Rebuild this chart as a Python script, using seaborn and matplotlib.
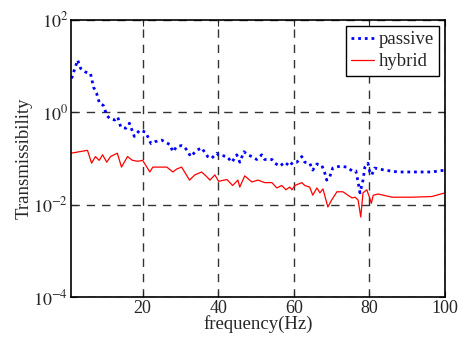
import numpy as np
import pandas as pd
import matplotlib
matplotlib.use("Agg")
import matplotlib.pyplot as plt
import seaborn as sns

# passive isolator
passive_freq = [1.2, 1.9, 2.8, 3.6, 4.9, 6.2, 7.0, 7.8, 8.6, 9.6, 10.5, 11.2, 12.6, 13.4,
                14.2, 15.5, 16.5, 17.8, 19.2, 20.0, 20.8, 21.5, 22.2, 23.2, 25.0, 27.2,
                28.0, 29.0, 30.3, 31.0, 32.0, 32.7, 34.3, 35.6, 37.2, 38.2, 39.6, 40.0,
                42.3, 43.6, 44.9, 45.7, 46.8, 47.8, 48.9, 50.2, 51.5, 52.3, 54.2, 55.0,
                56.3, 57.6, 58.9, 59.7, 60.8, 62.1, 62.9, 64.2, 65.0, 66.1, 67.4, 68.2,
                68.7, 69.5, 70.3, 72.2, 74.0, 75.4, 76.4, 77.0, 77.5, 78.3, 78.8, 79.6,
                80.1, 80.6, 81.4, 84.0, 87.5, 92.0, 96.5, 100.0]
passive_val = [5.4, 8.1, 13.5, 8.9, 7.4, 6.9, 3.5, 2.6, 1.55, 1.41, 0.87, 0.74, 0.68, 0.79,
               0.48, 0.45, 0.58, 0.30, 0.41, 0.39, 0.37, 0.28, 0.21, 0.23, 0.25, 0.20,
               0.14, 0.18, 0.19, 0.18, 0.14, 0.11, 0.15, 0.17, 0.11, 0.10, 0.13, 0.12,
               0.11, 0.083, 0.12, 0.083, 0.14, 0.12, 0.11, 0.095, 0.12, 0.095, 0.095, 0.079,
               0.068, 0.083, 0.068, 0.083, 0.083, 0.11, 0.083, 0.079, 0.056, 0.076, 0.071, 0.048,
               0.034, 0.040, 0.062, 0.068, 0.065, 0.054, 0.054, 0.031, 0.018, 0.034, 0.065, 0.079,
               0.051, 0.044, 0.062, 0.056, 0.051, 0.051, 0.051, 0.056]

# hybrid isolator
hybrid_freq = [1.0, 5.4, 6.5, 7.5, 8.5, 9.4, 10.5, 11.5, 13.3, 14.4, 16.0, 17.3, 18.7,
               20.0, 21.9, 22.7, 24.5, 26.4, 28.0, 29.0, 30.3, 31.1, 32.4, 33.8, 35.6,
               37.0, 37.8, 39.1, 40.1, 42.3, 43.8, 45.2, 45.7, 47.0, 48.9, 50.5, 52.3,
               54.2, 55.5, 56.8, 57.9, 58.9, 59.5, 60.3, 62.1, 62.9, 64.2, 65.0, 66.1,
               66.9, 67.7, 69.0, 70.0, 71.4, 73.0, 74.3, 75.4, 76.2, 77.0, 77.7, 78.3,
               79.3, 80.0, 80.5, 81.0, 82.3, 86.0, 91.3, 96.5, 100.0]
hybrid_val = [0.13, 0.15, 0.079, 0.11, 0.091, 0.12, 0.083, 0.11, 0.13, 0.065, 0.11, 0.091, 0.087,
              0.091, 0.051, 0.065, 0.065, 0.065, 0.051, 0.059, 0.065, 0.051, 0.034, 0.044, 0.051,
              0.040, 0.034, 0.044, 0.032, 0.035, 0.026, 0.034, 0.024, 0.042, 0.031, 0.034, 0.030,
              0.030, 0.023, 0.026, 0.021, 0.024, 0.021, 0.026, 0.030, 0.026, 0.024, 0.016, 0.023,
              0.018, 0.022, 0.0089, 0.0126, 0.019, 0.019, 0.016, 0.014, 0.0145, 0.0126, 0.0054, 0.018,
              0.021, 0.0145, 0.0107, 0.016, 0.017, 0.0145, 0.0145, 0.015, 0.018]

x_ticks = [20, 40, 60, 80, 100]
y_ticks = [1e-4, 1e-2, 1e0, 1e2]
y_labels = ['$10^{-4}$', '$10^{-2}$', '$10^{0}$', '$10^{2}$']

sns.set_style("ticks")
plt.rcParams['font.family'] = ['Liberation Serif', 'DejaVu Serif']
plt.rcParams['mathtext.fontset'] = 'stix'

passive = pd.DataFrame({'f': passive_freq, 'T': passive_val})
hybrid = pd.DataFrame({'f': hybrid_freq, 'T': hybrid_val})

fig = plt.figure(figsize=(4.66, 3.43), dpi=100)
ax = fig.add_axes([0.152, 0.134, 0.803, 0.808])

sns.lineplot(data=passive, x='f', y='T', ax=ax, color='#0000ff',
             linestyle=(0, (1, 1.4)), linewidth=2.0, label='passive', sort=False)
sns.lineplot(data=hybrid, x='f', y='T', ax=ax, color='#ff0000', linewidth=0.9,
             label='hybrid', sort=False)

ax.set_yscale('log')
ax.set_xlim(1, 100)
ax.set_ylim(1e-4, 1e2)
ax.set_xticks(x_ticks)
ax.set_xticklabels([str(t) for t in x_ticks])
ax.set_yticks(y_ticks)
ax.set_yticklabels(y_labels)
ax.minorticks_off()
ax.tick_params(direction='in', top=True, right=True, labelsize=13, length=4, width=0.8, pad=2)
ax.grid(True, color='#333333', linestyle=(0, (6, 5)), linewidth=1.0)
for s in ax.spines.values():
    s.set_linewidth(1.2)
    s.set_color('black')

ax.set_xlabel('frequency(Hz)', fontsize=13.5, labelpad=-1)
ax.set_ylabel('Transmissibility', fontsize=13.5, labelpad=0)

leg = ax.legend(loc='upper right', fontsize=13.5, handlelength=1.2, handletextpad=0.25,
                borderpad=0.3, labelspacing=0.25, borderaxespad=0.3, fancybox=False,
                framealpha=1)
leg.get_frame().set_edgecolor('black')
leg.get_frame().set_linewidth(1.0)

fig.savefig('out.png', dpi=100)
